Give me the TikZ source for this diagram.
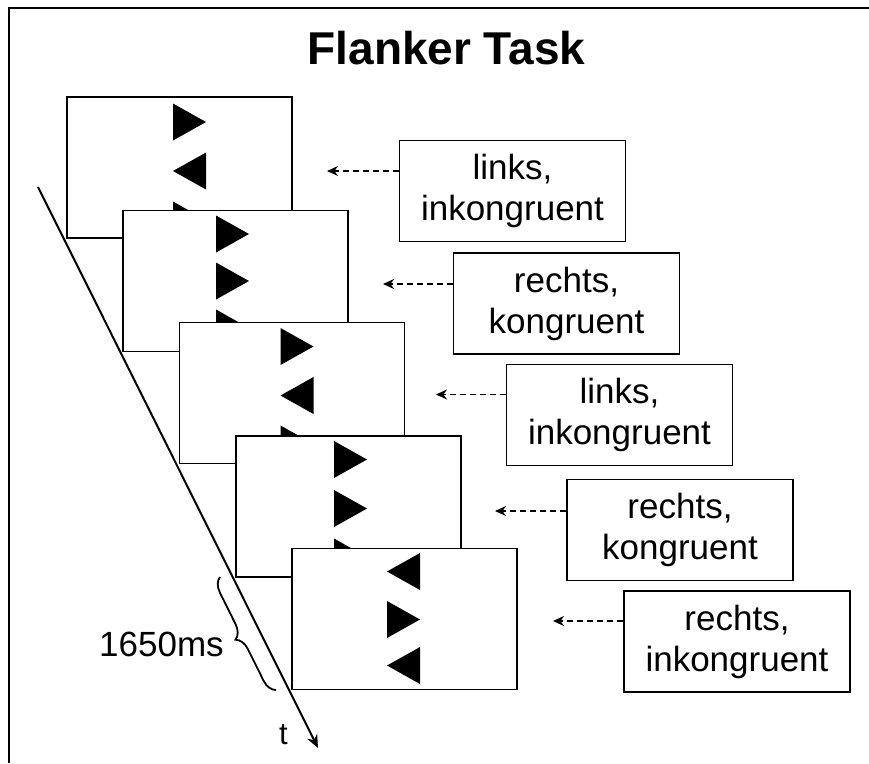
\documentclass[tikz,border=0pt]{standalone}
\usepackage{fontspec}
\setmainfont{Liberation Sans}
\usetikzlibrary{arrows.meta, positioning, decorations.pathreplacing}

\begin{document}
\begin{tikzpicture}[x=1pt, y=-1pt, >=Stealth,
    screen/.style={draw, fill=white, line width=1.5pt, minimum width=225pt, minimum height=141pt, inner sep=0pt},
    answer/.style={draw, line width=1.6pt, minimum width=226pt, minimum height=101pt, inner sep=0pt, align=center, font=\fontsize{35}{41}\selectfont},
    hint/.style={->, line width=1.5pt, dash pattern=on 6pt off 4pt, >={Stealth[length=11pt, width=10pt]}},
    rtri/.pic={\fill (-16.5,-18.5) -- (16.5,0) -- (-16.5,18.5) -- cycle;},
    ltri/.pic={\fill (16.5,-18.5) -- (-16.5,0) -- (16.5,18.5) -- cycle;}]
    \useasboundingbox (0,0) rectangle (869,763);

    % Outer frame (cut off at right and bottom)
    \draw[line width=1.6pt] (9,763) -- (9,8) -- (869,8);

    % Title
    \node[font=\fontsize{46}{52}\selectfont\bfseries] (title) at (446.5,48) {Flanker Task};

    % Stimulus screens
    \node[screen] (s1) at (179.5,167.5) {};
    \pic (s1a) at (189.5,122) {rtri};
    \pic (s1b) at (189.5,171) {ltri};
    \pic (s1c) at (189.5,220) {rtri};

    \node[screen] (s2) at (235.5,281) {};
    \pic (s2a) at (232.5,234) {rtri};
    \pic (s2b) at (232.5,281) {rtri};
    \pic (s2c) at (232.5,328) {rtri};

    \node[screen] (s3) at (292,393) {};
    \pic (s3a) at (297,346.5) {rtri};
    \pic (s3b) at (297,395.5) {ltri};
    \pic (s3c) at (297,444) {rtri};

    \node[screen] (s4) at (348.5,506.5) {};
    \pic (s4a) at (350.5,459.5) {rtri};
    \pic (s4b) at (350.5,508.5) {rtri};
    \pic (s4c) at (350.5,557) {rtri};

    \node[screen] (s5) at (404.5,619) {};
    \pic (s5a) at (403.5,571.5) {ltri};
    \pic (s5b) at (403.5,619.5) {rtri};
    \pic (s5c) at (403.5,665.5) {ltri};

    % Answer boxes
    \node[answer] (r1) at (512.5,191) {links,\\inkongruent};
    \node[answer] (r2) at (566.5,303.5) {rechts,\\kongruent};
    \node[answer] (r3) at (619.5,415) {links,\\inkongruent};
    \node[answer] (r4) at (680,530) {rechts,\\kongruent};
    \node[answer] (r5) at (737,641.5) {rechts,\\inkongruent};

    % Dashed arrows from the answers to the screens
    \coordinate (a1) at (327,171);
    \coordinate (a2) at (383,284);
    \coordinate (a3) at (436,394.5);
    \coordinate (a4) at (495,511);
    \coordinate (a5) at (553,621);
    \draw[hint] (a1 -| r1.west) -- (a1);
    \draw[hint] (a2 -| r2.west) -- (a2);
    \draw[hint] (a3 -| r3.west) -- (a3);
    \draw[hint] (a4 -| r4.west) -- (a4);
    \draw[hint] (a5 -| r5.west) -- (a5);

    % Time axis
    \coordinate (t0) at (38,187);
    \coordinate (t1) at (318,748);
    \draw[->, line width=2pt, >={Stealth[length=13pt, width=11pt]}] (t0) -- (t1);
    \node[font=\fontsize{31}{35}\selectfont] (tlab) at (283.5,735) {t};

    % Duration brace
    \coordinate (b0) at (276,690);
    \coordinate (b1) at (220,577);
    \draw[line width=1.8pt, decorate, decoration={brace, amplitude=14pt}] (b0) -- (b1);
    \node[font=\fontsize{35}{41}\selectfont] (dur) at (161.5,644.5) {1650ms};
\end{tikzpicture}
\end{document}
